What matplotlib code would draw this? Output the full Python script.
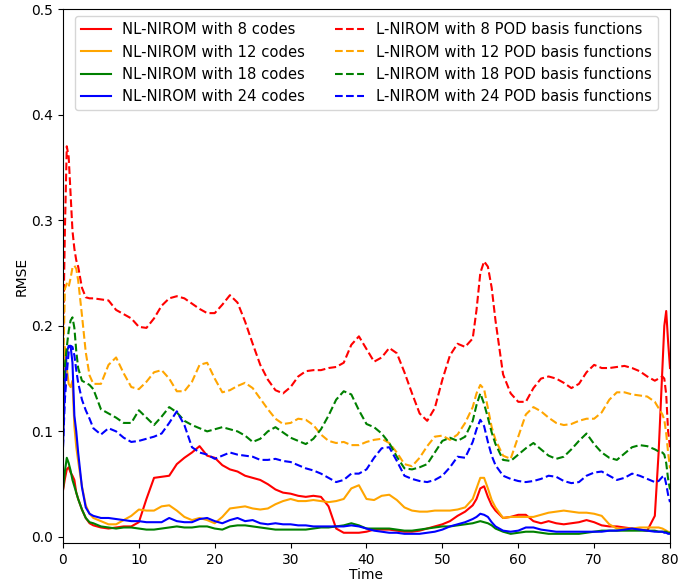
import matplotlib
matplotlib.use("Agg")
import matplotlib.pyplot as plt
import numpy as np

# Shared time samples (finer near the start, the t~55 peak and the end)
time = [0, 0.25, 0.5, 0.75, 1.0, 1.25, 1.5, 1.75, 2.0, 2.5, 3.0, 3.5, 4.0,
        5, 6, 7, 8, 9, 10, 11, 12, 13, 14, 15, 16, 17, 18, 19, 20,
        21, 22, 23, 24, 25, 26, 27, 28, 29, 30, 31, 32, 33, 34, 35, 36,
        37, 38, 39, 40, 41, 42, 43, 44, 45, 46, 47, 48, 49, 50, 51, 52,
        53, 54, 54.5, 55, 55.5, 56, 56.5, 57, 58, 59, 60, 61, 62, 63, 64,
        65, 66, 67, 68, 69, 70, 71, 72, 73, 74, 75, 76, 77, 78, 78.5, 79,
        79.25, 79.5, 79.75, 80]

# NL-NIROM (solid)
nl_8 = [0.044, 0.055, 0.064, 0.066, 0.061, 0.058, 0.054, 0.042, 0.036, 0.026, 0.018, 0.013, 0.011,
        0.009, 0.008, 0.009, 0.010, 0.010, 0.014, 0.036, 0.056, 0.057, 0.058, 0.069, 0.075, 0.080, 0.086, 0.077, 0.075,
        0.068, 0.064, 0.062, 0.058, 0.056, 0.054, 0.050, 0.045, 0.042, 0.041, 0.039, 0.038, 0.039, 0.038, 0.029, 0.008,
        0.004, 0.004, 0.004, 0.005, 0.007, 0.007, 0.007, 0.006, 0.005, 0.005, 0.006, 0.008, 0.010, 0.012, 0.015, 0.020,
        0.024, 0.030, 0.036, 0.046, 0.048, 0.038, 0.030, 0.025, 0.018, 0.019, 0.021, 0.021, 0.015, 0.013, 0.015,
        0.013, 0.012, 0.013, 0.014, 0.016, 0.014, 0.011, 0.010, 0.010, 0.009, 0.008, 0.007, 0.006, 0.020, 0.080, 0.160,
        0.200, 0.214, 0.185, 0.160]
nl_12 = [0.100, 0.180, 0.160, 0.145, 0.142, 0.148, 0.105, 0.085, 0.072, 0.048, 0.030, 0.022, 0.018,
         0.015, 0.012, 0.012, 0.016, 0.020, 0.026, 0.025, 0.025, 0.029, 0.030, 0.025, 0.019, 0.016, 0.018, 0.016, 0.013,
         0.019, 0.027, 0.028, 0.029, 0.027, 0.026, 0.027, 0.031, 0.034, 0.036, 0.034, 0.034, 0.035, 0.034, 0.033, 0.034,
         0.036, 0.046, 0.049, 0.036, 0.035, 0.039, 0.040, 0.035, 0.028, 0.025, 0.024, 0.024, 0.025, 0.025, 0.025, 0.026,
         0.028, 0.036, 0.046, 0.056, 0.056, 0.046, 0.035, 0.028, 0.018, 0.019, 0.019, 0.019, 0.019, 0.021, 0.023,
         0.024, 0.025, 0.024, 0.023, 0.023, 0.022, 0.020, 0.012, 0.008, 0.008, 0.008, 0.009, 0.009, 0.009, 0.009, 0.008,
         0.007, 0.006, 0.005, 0.004]
nl_18 = [0.045, 0.062, 0.075, 0.070, 0.063, 0.054, 0.048, 0.042, 0.036, 0.026, 0.018, 0.014, 0.013,
         0.010, 0.009, 0.008, 0.009, 0.009, 0.008, 0.007, 0.007, 0.008, 0.009, 0.010, 0.009, 0.009, 0.010, 0.010, 0.008,
         0.007, 0.010, 0.011, 0.011, 0.010, 0.009, 0.008, 0.007, 0.007, 0.007, 0.007, 0.007, 0.008, 0.009, 0.009, 0.010,
         0.011, 0.013, 0.011, 0.008, 0.008, 0.008, 0.008, 0.007, 0.006, 0.006, 0.007, 0.008, 0.009, 0.010, 0.010, 0.011,
         0.012, 0.013, 0.014, 0.015, 0.014, 0.013, 0.011, 0.008, 0.005, 0.003, 0.004, 0.005, 0.005, 0.004, 0.003,
         0.003, 0.003, 0.003, 0.003, 0.004, 0.005, 0.006, 0.006, 0.006, 0.006, 0.006, 0.006, 0.006, 0.006, 0.005, 0.005,
         0.005, 0.005, 0.004, 0.004]
nl_24 = [0.085, 0.150, 0.175, 0.181, 0.181, 0.165, 0.115, 0.100, 0.080, 0.047, 0.028, 0.022, 0.020,
         0.018, 0.018, 0.017, 0.016, 0.015, 0.015, 0.014, 0.014, 0.014, 0.018, 0.015, 0.014, 0.014, 0.017, 0.018, 0.015,
         0.013, 0.016, 0.018, 0.015, 0.016, 0.013, 0.012, 0.013, 0.012, 0.012, 0.011, 0.011, 0.010, 0.010, 0.010, 0.010,
         0.010, 0.011, 0.010, 0.008, 0.006, 0.005, 0.004, 0.004, 0.003, 0.003, 0.003, 0.004, 0.005, 0.007, 0.010, 0.012,
         0.014, 0.017, 0.019, 0.022, 0.021, 0.019, 0.014, 0.010, 0.006, 0.005, 0.006, 0.009, 0.009, 0.007, 0.006,
         0.005, 0.005, 0.005, 0.005, 0.005, 0.005, 0.005, 0.006, 0.006, 0.007, 0.008, 0.007, 0.006, 0.005, 0.005, 0.005,
         0.004, 0.004, 0.003, 0.003]

# L-NIROM (dashed)
l_8 = [0.180, 0.290, 0.370, 0.360, 0.325, 0.290, 0.273, 0.262, 0.256, 0.236, 0.227, 0.226, 0.226,
       0.225, 0.224, 0.215, 0.211, 0.207, 0.199, 0.198, 0.207, 0.219, 0.226, 0.228, 0.226, 0.221, 0.216, 0.212, 0.212,
       0.220, 0.229, 0.222, 0.204, 0.183, 0.163, 0.149, 0.139, 0.136, 0.142, 0.152, 0.157, 0.158, 0.158, 0.160, 0.161,
       0.165, 0.182, 0.190, 0.178, 0.166, 0.170, 0.179, 0.174, 0.156, 0.136, 0.117, 0.110, 0.122, 0.149, 0.172, 0.183,
       0.180, 0.188, 0.215, 0.250, 0.261, 0.256, 0.236, 0.205, 0.154, 0.136, 0.128, 0.128, 0.141, 0.150, 0.152,
       0.150, 0.146, 0.141, 0.145, 0.156, 0.163, 0.160, 0.160, 0.161, 0.162, 0.160, 0.157, 0.152, 0.148, 0.150, 0.152,
       0.150, 0.135, 0.100, 0.085]
l_12 = [0.150, 0.235, 0.240, 0.237, 0.245, 0.255, 0.257, 0.254, 0.243, 0.210, 0.175, 0.153, 0.145,
        0.145, 0.163, 0.170, 0.155, 0.142, 0.140, 0.147, 0.156, 0.158, 0.150, 0.138, 0.138, 0.147, 0.163, 0.165, 0.150,
        0.137, 0.139, 0.143, 0.146, 0.141, 0.131, 0.121, 0.112, 0.107, 0.108, 0.112, 0.111, 0.106, 0.097, 0.091, 0.089,
        0.090, 0.087, 0.087, 0.090, 0.092, 0.093, 0.089, 0.080, 0.069, 0.067, 0.075, 0.086, 0.095, 0.096, 0.092, 0.097,
        0.108, 0.123, 0.136, 0.144, 0.140, 0.122, 0.104, 0.092, 0.077, 0.074, 0.095, 0.116, 0.123, 0.119, 0.113,
        0.108, 0.106, 0.107, 0.110, 0.112, 0.112, 0.118, 0.130, 0.137, 0.137, 0.135, 0.134, 0.133, 0.128, 0.122, 0.116,
        0.111, 0.098, 0.080, 0.065]
l_18 = [0.140, 0.162, 0.180, 0.195, 0.205, 0.208, 0.198, 0.176, 0.160, 0.148, 0.146, 0.144, 0.140,
        0.121, 0.117, 0.113, 0.108, 0.108, 0.120, 0.113, 0.106, 0.114, 0.123, 0.118, 0.110, 0.106, 0.103, 0.100, 0.102,
        0.104, 0.102, 0.100, 0.096, 0.090, 0.093, 0.100, 0.104, 0.099, 0.094, 0.091, 0.088, 0.093, 0.102, 0.115, 0.130,
        0.138, 0.135, 0.120, 0.107, 0.104, 0.098, 0.089, 0.076, 0.065, 0.064, 0.066, 0.069, 0.080, 0.091, 0.094, 0.091,
        0.095, 0.110, 0.125, 0.136, 0.126, 0.113, 0.099, 0.088, 0.073, 0.072, 0.078, 0.084, 0.089, 0.083, 0.077,
        0.074, 0.076, 0.083, 0.091, 0.098, 0.088, 0.080, 0.075, 0.073, 0.079, 0.085, 0.087, 0.086, 0.083, 0.081, 0.080,
        0.078, 0.070, 0.055, 0.045]
l_24 = [0.085, 0.130, 0.155, 0.175, 0.181, 0.180, 0.172, 0.158, 0.146, 0.130, 0.120, 0.112, 0.103,
        0.097, 0.103, 0.100, 0.094, 0.090, 0.091, 0.093, 0.095, 0.098, 0.108, 0.119, 0.106, 0.085, 0.080, 0.078, 0.074,
        0.077, 0.080, 0.078, 0.077, 0.076, 0.073, 0.073, 0.074, 0.072, 0.071, 0.068, 0.065, 0.063, 0.060, 0.056, 0.052,
        0.054, 0.060, 0.060, 0.064, 0.075, 0.084, 0.085, 0.072, 0.058, 0.055, 0.053, 0.052, 0.054, 0.058, 0.066, 0.076,
        0.075, 0.090, 0.102, 0.111, 0.105, 0.090, 0.077, 0.068, 0.058, 0.055, 0.053, 0.052, 0.053, 0.055, 0.058,
        0.057, 0.053, 0.051, 0.052, 0.058, 0.061, 0.062, 0.058, 0.054, 0.056, 0.060, 0.058, 0.055, 0.052, 0.053, 0.057,
        0.058, 0.050, 0.040, 0.033]

codes = [8, 12, 18, 24]
colors = ["red", "orange", "green", "blue"]
nl_series = [nl_8, nl_12, nl_18, nl_24]
l_series = [l_8, l_12, l_18, l_24]

fig = plt.figure(figsize=(6.78, 5.81), dpi=100)
ax = fig.add_axes([0.0929, 0.0654, 0.8953, 0.9191])

t = np.asarray(time)
for n, c, y in zip(codes, colors, nl_series):
    ax.plot(t, y, color=c, lw=1.5, label=f"NL-NIROM with {n} codes")
for n, c, y in zip(codes, colors, l_series):
    ax.plot(t, y, color=c, lw=1.5, ls="--", label=f"L-NIROM with {n} POD basis functions")

ax.set_xlim(0, 80)
ax.set_ylim(-0.0057, 0.5)
ax.set_xlabel("Time", labelpad=1)
ax.set_ylabel("RMSE", labelpad=2)
ax.legend(loc="upper center", ncol=2, fontsize=10.6)

fig.savefig("out.png", dpi=100)
